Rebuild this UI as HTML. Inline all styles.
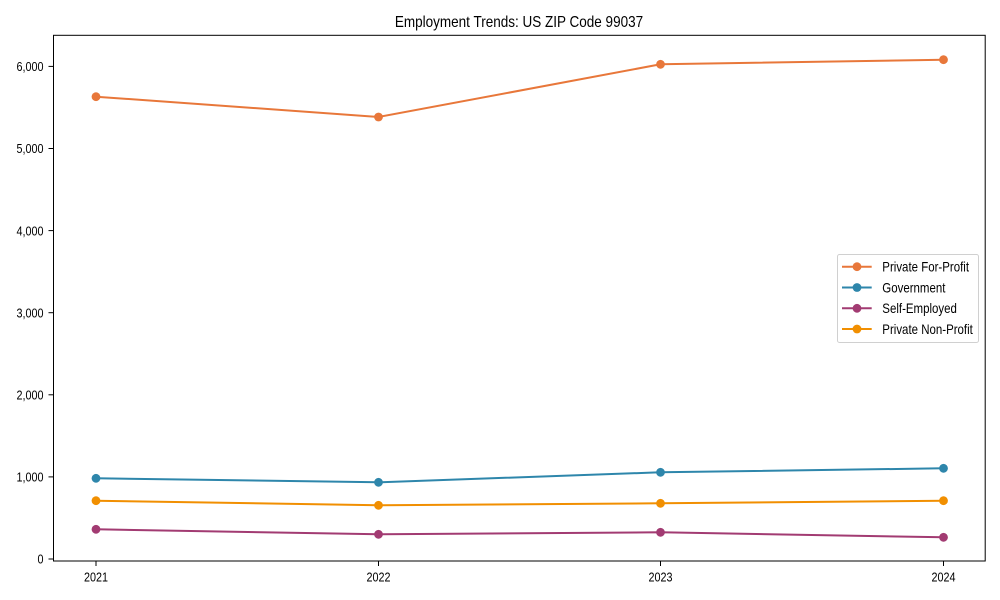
<!DOCTYPE html>
<html>
<head>
<meta charset="utf-8">
<style>
  html, body { margin: 0; padding: 0; background: #ffffff; }
  svg { display: block; }
  text { font-family: "Liberation Sans", Arial, sans-serif; fill: #000; }
</style>
</head>
<body>
<svg width="1000" height="600" viewBox="0 0 1000 600" xmlns="http://www.w3.org/2000/svg">
  <rect x="0" y="0" width="1000" height="600" fill="#ffffff"/>

  <!-- Title -->
  <text transform="translate(519,27) scale(0.845,1)" font-size="16" text-anchor="middle">Employment Trends: US ZIP Code 99037</text>

  <!-- Axes frame -->
  <rect x="53.5" y="35.3" width="931.7" height="525.7" fill="none" stroke="#000" stroke-width="1"/>

  <!-- Y ticks -->
  <g stroke="#000" stroke-width="1">
    <line x1="48.5" y1="559" x2="53.5" y2="559"/>
    <line x1="48.5" y1="476.9" x2="53.5" y2="476.9"/>
    <line x1="48.5" y1="394.8" x2="53.5" y2="394.8"/>
    <line x1="48.5" y1="312.7" x2="53.5" y2="312.7"/>
    <line x1="48.5" y1="230.6" x2="53.5" y2="230.6"/>
    <line x1="48.5" y1="148.5" x2="53.5" y2="148.5"/>
    <line x1="48.5" y1="66.4" x2="53.5" y2="66.4"/>
  </g>
  <g font-size="13" text-anchor="end">
    <text transform="translate(43.5,563.7) scale(0.83,1)">0</text>
    <text transform="translate(43.5,481.6) scale(0.83,1)">1,000</text>
    <text transform="translate(43.5,399.5) scale(0.83,1)">2,000</text>
    <text transform="translate(43.5,317.4) scale(0.83,1)">3,000</text>
    <text transform="translate(43.5,235.3) scale(0.83,1)">4,000</text>
    <text transform="translate(43.5,153.2) scale(0.83,1)">5,000</text>
    <text transform="translate(43.5,71.1) scale(0.83,1)">6,000</text>
  </g>

  <!-- X ticks -->
  <g stroke="#000" stroke-width="1">
    <line x1="96" y1="561" x2="96" y2="566"/>
    <line x1="378.5" y1="561" x2="378.5" y2="566"/>
    <line x1="660.5" y1="561" x2="660.5" y2="566"/>
    <line x1="943.5" y1="561" x2="943.5" y2="566"/>
  </g>
  <g font-size="13" text-anchor="middle">
    <text transform="translate(96,581.5) scale(0.83,1)">2021</text>
    <text transform="translate(378.5,581.5) scale(0.83,1)">2022</text>
    <text transform="translate(660.5,581.5) scale(0.83,1)">2023</text>
    <text transform="translate(943.5,581.5) scale(0.83,1)">2024</text>
  </g>

  <!-- Series: Private For-Profit -->
  <g stroke="#E8773A" fill="#E8773A">
    <polyline points="96,96.7 378.5,117 660.5,64.3 943.5,59.7" fill="none" stroke-width="2"/>
    <circle cx="96" cy="96.7" r="4.4" stroke="none"/>
    <circle cx="378.5" cy="117" r="4.4" stroke="none"/>
    <circle cx="660.5" cy="64.3" r="4.4" stroke="none"/>
    <circle cx="943.5" cy="59.7" r="4.4" stroke="none"/>
  </g>
  <!-- Government -->
  <g stroke="#2E86AB" fill="#2E86AB">
    <polyline points="96,478.3 378.5,482.3 660.5,472.3 943.5,468.3" fill="none" stroke-width="2"/>
    <circle cx="96" cy="478.3" r="4.4" stroke="none"/>
    <circle cx="378.5" cy="482.3" r="4.4" stroke="none"/>
    <circle cx="660.5" cy="472.3" r="4.4" stroke="none"/>
    <circle cx="943.5" cy="468.3" r="4.4" stroke="none"/>
  </g>
  <!-- Self-Employed -->
  <g stroke="#A23B72" fill="#A23B72">
    <polyline points="96,529.3 378.5,534.3 660.5,532.3 943.5,537.3" fill="none" stroke-width="2"/>
    <circle cx="96" cy="529.3" r="4.4" stroke="none"/>
    <circle cx="378.5" cy="534.3" r="4.4" stroke="none"/>
    <circle cx="660.5" cy="532.3" r="4.4" stroke="none"/>
    <circle cx="943.5" cy="537.3" r="4.4" stroke="none"/>
  </g>
  <!-- Private Non-Profit -->
  <g stroke="#F18F01" fill="#F18F01">
    <polyline points="96,500.7 378.5,505.3 660.5,503.3 943.5,500.7" fill="none" stroke-width="2"/>
    <circle cx="96" cy="500.7" r="4.4" stroke="none"/>
    <circle cx="378.5" cy="505.3" r="4.4" stroke="none"/>
    <circle cx="660.5" cy="503.3" r="4.4" stroke="none"/>
    <circle cx="943.5" cy="500.7" r="4.4" stroke="none"/>
  </g>

  <!-- Legend -->
  <rect x="837.5" y="254.5" width="141" height="88" rx="2" ry="2" fill="#ffffff" fill-opacity="0.8" stroke="#d0d0d0" stroke-width="1"/>
  <g stroke-width="2">
    <line x1="842" y1="266.7" x2="871.7" y2="266.7" stroke="#E8773A"/>
    <circle cx="857" cy="266.7" r="4.4" fill="#E8773A"/>
    <line x1="842" y1="287.5" x2="871.7" y2="287.5" stroke="#2E86AB"/>
    <circle cx="857" cy="287.5" r="4.4" fill="#2E86AB"/>
    <line x1="842" y1="308.3" x2="871.7" y2="308.3" stroke="#A23B72"/>
    <circle cx="857" cy="308.3" r="4.4" fill="#A23B72"/>
    <line x1="842" y1="329" x2="871.7" y2="329" stroke="#F18F01"/>
    <circle cx="857" cy="329" r="4.4" fill="#F18F01"/>
  </g>
  <g font-size="14">
    <text transform="translate(882.3,271.5) scale(0.82,1)">Private For-Profit</text>
    <text transform="translate(882.3,292.3) scale(0.82,1)">Government</text>
    <text transform="translate(882.3,313.1) scale(0.82,1)">Self-Employed</text>
    <text transform="translate(882.3,333.8) scale(0.82,1)">Private Non-Profit</text>
  </g>
</svg>
</body>
</html>
